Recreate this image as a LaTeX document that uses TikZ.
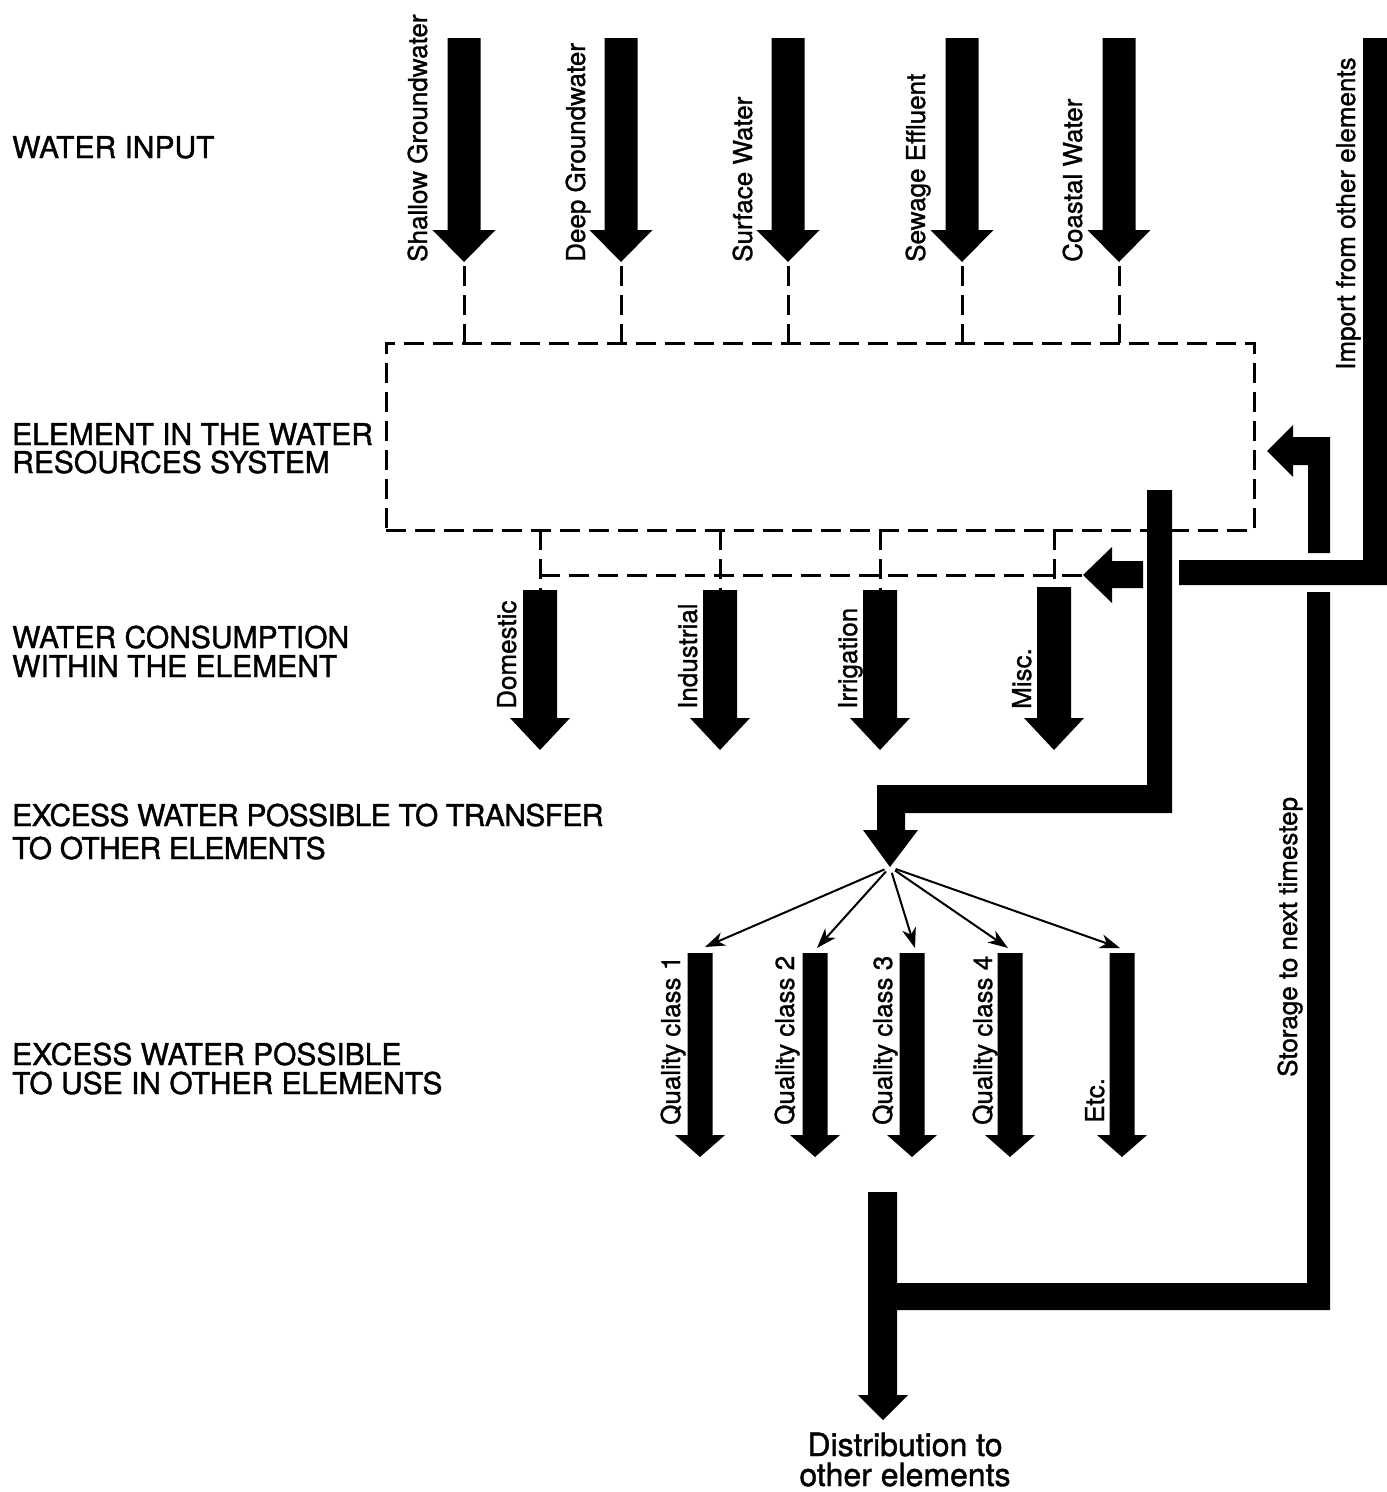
\documentclass[tikz,border=0pt]{standalone}
\usepackage{fontspec}
\setmainfont{TeX Gyre Heros}[FakeBold=1.2]
\usetikzlibrary{arrows.meta}
% down-pointing block arrow: name, x, ytop, yheadtop, ytip, shaft half width, head half width
\newcommand\wdownarrow[7]{%
  \coordinate (#1-top) at (#2,#3);
  \coordinate (#1) at (#2,#5);
  \fill ({#2-#6},#3) -- ({#2+#6},#3) -- ({#2+#6},#4) -- ({#2+#7},#4) -- (#1)
        -- ({#2-#7},#4) -- ({#2-#6},#4) -- cycle;}
\begin{document}
\begin{tikzpicture}[x=1pt,y=-1pt,
  lab/.style={rotate=90, anchor=base west, inner sep=0pt, font=\fontsize{26}{26}\selectfont},
  side/.style={anchor=base west, inner sep=0pt, font=\fontsize{30}{30}\selectfont},
  sidecond/.style={side, font=\fontsize{30}{30}\selectfont\addfontfeatures{LetterSpace=-2}},
  dist/.style={anchor=base, inner sep=0pt, font=\fontsize{32}{32}\selectfont},
  dsh/.style={line width=3pt, dash pattern=on 20pt off 9pt},
  fanarr/.style={line width=2pt, -{Stealth[length=20pt,width=14pt,inset=6pt]}},
  ]
\useasboundingbox (0,0) rectangle (1387,1492);
\fill[white] (0,0) rectangle (1387,1492);

% ---- left-hand level labels
\node[side] (l1)  at (12,158)  {WATER INPUT};
\node[side] (l2a) at (12,445)  {ELEMENT IN THE WATER};
\node[side] (l2b) at (12,473)  {RESOURCES SYSTEM};
\node[side] (l3a) at (12,648)  {WATER CONSUMPTION};
\node[side] (l3b) at (12,677)  {WITHIN THE ELEMENT};
\node[sidecond] (l4a) at (12,826)  {EXCESS WATER POSSIBLE TO TRANSFER};
\node[sidecond] (l4b) at (12,859)  {TO OTHER ELEMENTS};
\node[side] (l5a) at (12,1065) {EXCESS WATER POSSIBLE};
\node[side] (l5b) at (12,1094) {TO USE IN OTHER ELEMENTS};

% ---- element box
\node[draw, dsh, minimum width=868pt, minimum height=187pt, inner sep=0pt, outer sep=0pt]
  (elem) at (820,436.5) {};

% ---- water input arrows
\wdownarrow{shallow}{464}{38}{230}{262}{16.5}{31.5}
\wdownarrow{deep}{621}{38}{230}{262}{16.5}{31.5}
\wdownarrow{surface}{788}{38}{230}{262}{16.5}{31.5}
\wdownarrow{sewage}{962}{38}{230}{262}{16.5}{31.5}
\wdownarrow{coastal}{1119}{38}{230}{262}{16.5}{31.5}
\foreach \n in {shallow,deep,surface,sewage,coastal}
  \draw[dsh] ([yshift=-4pt]\n) -- (\n |- elem.north);

\node[lab] (tshallow) at (427,262)  {Shallow Groundwater};
\node[lab] (tdeep)    at (585,262)  {Deep Groundwater};
\node[lab] (tsurface) at (752,262)  {Surface Water};
\node[lab] (tsewage)  at (925,262)  {Sewage Effluent};
\node[lab] (tcoastal) at (1082,262) {Coastal Water};

% ---- consumption arrows
\wdownarrow{dom}{540}{590}{718}{750}{17}{30}
\wdownarrow{ind}{720}{590}{718}{750}{17}{30}
\wdownarrow{irr}{880}{590}{718}{750}{17}{30}
\wdownarrow{misc}{1054}{587}{718}{750}{17}{30}
\coordinate (smalltip) at (1083,575);
\foreach \n in {dom,ind,irr,misc}
  \draw[dsh] (\n-top |- elem.south) -- (\n-top);
\draw[dsh] (dom-top |- smalltip) -- (smalltip);

\node[lab] (tdom)  at (516,709)  {Domestic};
\node[lab] (tind)  at (697,709)  {Industrial};
\node[lab] (tirr)  at (857,709)  {Irrigation};
\node[lab] (tmisc) at (1031,709) {Misc.};

% ---- import from other elements
\fill (1363,38) -- (1387,38) -- (1387,585) -- (1179,585) -- (1179,560) -- (1363,560) -- cycle;
\node[lab] (timport) at (1355,370) {Import from other elements};
% small arrow into consumption
\fill (1143,561) -- (1143,588) -- (1112,588) -- (1112,603) -- (smalltip) -- (1112,547) -- (1112,561) -- cycle;
% return arrow into element
\coordinate (rettip) at (1267,451);
\fill (1308,553) -- (1330,553) -- (1330,437) -- (1293,437) -- (1293,425) -- (rettip)
      -- (1293,477) -- (1293,465) -- (1308,465) -- cycle;

% ---- excess water out of the element
\coordinate (fan) at (890,867);
\fill (1147,490) -- (1172,490) -- (1172,813) -- (905,813) -- (905,830) -- (918,830) -- (fan)
      -- (863,830) -- (877,830) -- (877,785) -- (1147,785) -- cycle;

% ---- quality classes
\wdownarrow{q1}{700}{953}{1135}{1157}{12.5}{25}
\wdownarrow{q2}{815}{953}{1135}{1157}{12.5}{25}
\wdownarrow{q3}{912}{953}{1135}{1157}{12.5}{25}
\wdownarrow{q4}{1010}{953}{1135}{1157}{12.5}{25}
\wdownarrow{q5}{1122}{953}{1135}{1157}{12.5}{25}
\coordinate (e1) at (705,947);
\coordinate (e2) at (817,948);
\coordinate (e3) at (915,948);
\coordinate (e4) at (1008,948);
\coordinate (e5) at (1120,948);
\foreach \n in {1,...,5}
  \draw[fanarr, shorten <=6pt] (fan) -- (e\n);

\node[lab] (tq1) at (680,1125)  {Quality class 1};
\node[lab] (tq2) at (794,1125)  {Quality class 2};
\node[lab] (tq3) at (892,1125)  {Quality class 3};
\node[lab] (tq4) at (992,1125)  {Quality class 4};
\node[lab] (tq5) at (1104,1123) {Etc.};

% ---- storage and distribution
\fill (1307,592) -- (1330,592) -- (1330,1310) -- (897,1310) -- (897,1283) -- (1307,1283) -- cycle;
\node[lab] (tstore) at (1297,1077) {Storage to next timestep};
\coordinate (disttip) at (883,1420);
\fill (868,1192) -- (897,1192) -- (897,1395) -- (908,1395) -- (disttip) -- (858,1395) -- (868,1395) -- cycle;
\node[dist] (d1) at (905,1456) {Distribution to};
\node[dist] (d2) at (905,1486) {other elements};
\end{tikzpicture}
\end{document}
